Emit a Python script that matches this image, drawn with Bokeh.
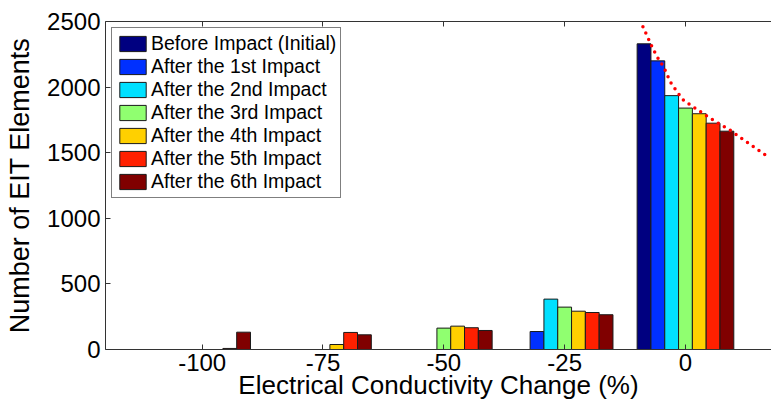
import numpy as np
from bokeh.plotting import figure
from bokeh.models import FixedTicker, LinearAxis, Range1d
from bokeh.embed import file_html
from bokeh.resources import INLINE

# ---- data ----
categories = [-100, -75, -50, -25, 0]
series_names = ["Before Impact (Initial)", "After the 1st Impact", "After the 2nd Impact",
                "After the 3rd Impact", "After the 4th Impact", "After the 5th Impact",
                "After the 6th Impact"]
before = [0, 0, 0, 0, 2330]
impact1 = [0, 0, 0, 137, 2200]
impact2 = [0, 0, 0, 384, 1935]
impact3 = [0, 0, 163, 323, 1840]
impact4 = [0, 38, 178, 292, 1797]
impact5 = [8, 130, 166, 282, 1725]
impact6 = [132, 112, 145, 265, 1664]
series_values = [before, impact1, impact2, impact3, impact4, impact5, impact6]
colors = ["#000080", "#0030FF", "#00E0FF", "#90FF70", "#FFD000", "#FF2000", "#800000"]

trend_x = [-9.4, -6.9, -5.85, -4.5, -3.1, -1.7, -0.35, 1.7, 5.85, 9.3, 12.75, 17.2]
trend_y = [2509, 2305, 2229, 2153, 2038, 1962, 1898, 1847, 1746, 1670, 1580, 1466]

x_ticks = [-100, -75, -50, -25, 0]
x_tick_labels = ["-100", "-75", "-50", "-25", "0"]
y_ticks = [0, 500, 1000, 1500, 2000, 2500]

# ---- figure ----
FONT = "Liberation Sans"
p = figure(width=771, height=406, x_range=Range1d(-120, 17.8), y_range=Range1d(0, 2500),
           output_backend="svg", toolbar_location=None,
           min_border_left=105, min_border_top=21, min_border_bottom=57, min_border_right=0,
           x_axis_location=None, y_axis_location=None)
p.outline_line_color = None
p.xgrid.visible = False
p.ygrid.visible = False

group_width = 20.0
bar_w = group_width / len(series_values)
cats = np.array(categories, dtype=float)
for i, (vals, col, name) in enumerate(zip(series_values, colors, series_names)):
    xs = cats + (i - (len(series_values) - 1) / 2) * bar_w
    p.vbar(x=xs, top=vals, bottom=0, width=bar_w, fill_color=col, line_color="#1a1a1a",
           line_width=1, legend_label=name)

p.line(trend_x, trend_y, line_color="red", line_width=3.5, line_dash="0 7", line_cap="round")

bx = LinearAxis(axis_label="Electrical Conductivity Change (%)")
tx = LinearAxis()
ly = LinearAxis(axis_label="Number of EIT Elements")
for ax, ticks in ((bx, x_ticks), (tx, x_ticks), (ly, y_ticks)):
    ax.ticker = FixedTicker(ticks=ticks)
    ax.major_tick_in = 5
    ax.major_tick_out = 0
    ax.minor_tick_line_color = None
    ax.axis_line_color = "#333333"
    ax.major_tick_line_color = "#333333"
    ax.major_label_text_font = FONT
    ax.major_label_text_color = "black"
    ax.axis_label_text_font = FONT
    ax.axis_label_text_font_style = "normal"
    ax.axis_label_text_color = "black"
bx.major_label_overrides = {t: s for t, s in zip(x_ticks, x_tick_labels)}
tx.major_label_overrides = {t: "" for t in x_ticks}
tx.major_label_text_font_size = "1px"
tx.major_label_standoff = 0
bx.major_label_text_font_size = "24px"
bx.axis_label_text_font_size = "26px"
bx.major_label_standoff = 4
bx.axis_label_standoff = -4
ly.major_label_text_font_size = "24px"
ly.axis_label_text_font_size = "27px"
ly.major_label_standoff = 5
ly.axis_label_standoff = 9
p.add_layout(bx, "below")
p.add_layout(tx, "above")
p.add_layout(ly, "left")

lg = p.legend[0]
lg.location = "top_left"
lg.margin = 6
lg.padding = 4
lg.spacing = 0
lg.glyph_width = 33
lg.glyph_height = 19
lg.label_height = 19
lg.label_standoff = 2
lg.label_text_font = FONT
lg.label_text_font_size = "19.5px"
lg.label_text_color = "black"
lg.border_line_color = "black"
lg.border_line_width = 1
lg.background_fill_alpha = 1.0

open("out.html", "w").write(file_html(p, INLINE))
